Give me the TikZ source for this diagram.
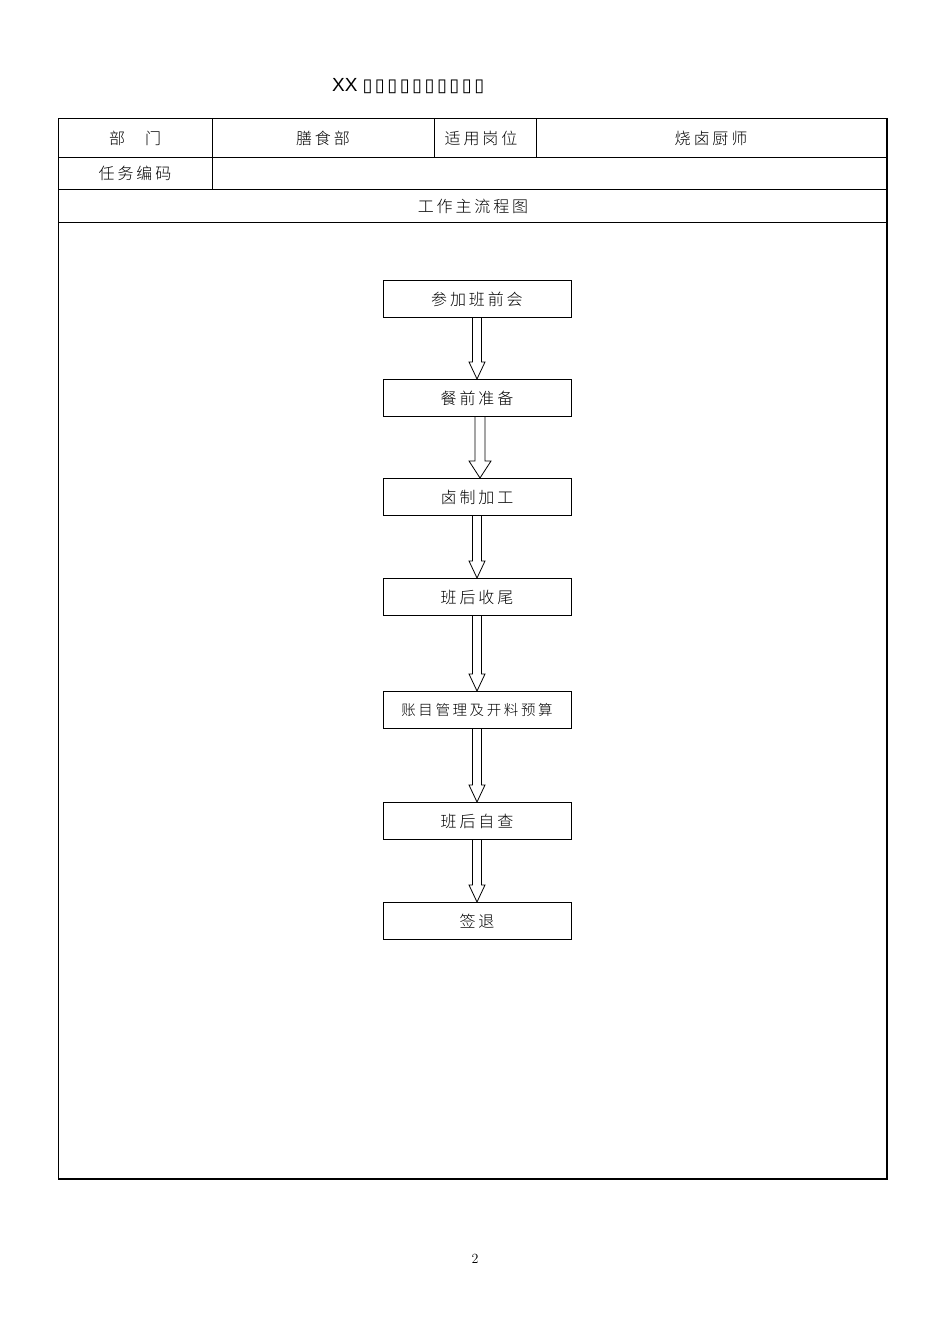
\documentclass[tikz,border=0pt]{standalone}
\usepackage{fontspec}
\newfontfamily\cjk[LetterSpace=18]{Noto Sans CJK SC Light}
\newfontfamily\titlefont{Liberation Sans}
\newfontfamily\symfont[LetterSpace=14]{DejaVu Sans}
\usetikzlibrary{calc}

\tikzset{fnode/.style = {shape = rectangle,
                         draw,
                         line width = 1pt,
                         minimum width = 188pt,
                         minimum height = 37pt,
                         inner sep = 0pt,
                         font = \cjk\fontsize{16}{16}\selectfont},
         cell/.style = {inner sep = 0pt,
                        font = \cjk\fontsize{16}{16}\selectfont},
         harrow/.style = {draw, line width = 0.8pt, line join = miter}}

% hollow block arrow from node #2 down to node #3, #1 = x shift
\newcommand{\hollow}[5][0]{%
  \draw[harrow] ($(#2.south)+(#1-#4,0)$) -- ($(#3.north)+(#1-#4,-17)$)
     -- ($(#3.north)+(#1-#5,-17)$) -- ($(#3.north)+(#1,0)$)
     -- ($(#3.north)+(#1+#5,-17)$) -- ($(#3.north)+(#1+#4,-17)$)
     -- ($(#2.south)+(#1+#4,0)$);}

\begin{document}
\begin{tikzpicture}[x=1pt, y=-1pt]
    \useasboundingbox (0,0) rectangle (950,1344);

    % title
    \node[inner sep=0pt, anchor=west] (title) at (332,86)
         {\titlefont\fontsize{19}{19}\selectfont XX\hspace{5pt}\symfont\fontsize{18}{18}\selectfont
          ▯▯▯▯▯▯▯▯▯▯};

    % table
    \draw[line width=0.9pt] (58,118) -- (888,118);
    \draw[line width=0.8pt] (58,157) -- (888,157);
    \draw[line width=0.8pt] (58,189) -- (888,189);
    \draw[line width=0.8pt] (58,222) -- (888,222);
    \draw[line width=1.6pt] (58,1179) -- (888,1179);
    \draw[line width=0.9pt] (58,118) -- (58,1179);
    \draw[line width=2.4pt] (887,118) -- (887,1180);
    \draw[line width=0.8pt] (212,118) -- (212,189);
    \draw[line width=0.8pt] (434,118) -- (434,157);
    \draw[line width=0.8pt] (536,118) -- (536,157);

    \node[cell] (dept) at (135,138) {部\hspace{20pt}门};
    \node[cell] (deptname) at (323,138) {膳食部};
    \node[cell] (post) at (481,138) {适用岗位};
    \node[cell] (postname) at (711,138) {烧卤厨师};
    \node[cell] (code) at (135,173) {任务编码};
    \node[cell] (flow) at (473,206) {工作主流程图};

    % flow chart
    \node[fnode] (1) at (477,299) {参加班前会};
    \node[fnode] (2) at (477,398) {餐前准备};
    \node[fnode] (3) at (477,497) {卤制加工};
    \node[fnode] (4) at (477,597) {班后收尾};
    \node[fnode, font=\cjk\fontsize{14.5}{14.5}\selectfont] (5) at (477,710) {账目管理及开料预算};
    \node[fnode] (6) at (477,821) {班后自查};
    \node[fnode] (7) at (477,921) {签退};

    \hollow{1}{2}{4.5}{8}
    \hollow[3]{2}{3}{5}{11}
    \hollow{3}{4}{4.5}{8}
    \hollow{4}{5}{4.5}{8}
    \hollow{5}{6}{4.5}{8}
    \hollow{6}{7}{4.5}{8}

    % page number
    \node[font=\fontsize{14}{14}\selectfont] (page) at (475,1259) {2};
\end{tikzpicture}
\end{document}
